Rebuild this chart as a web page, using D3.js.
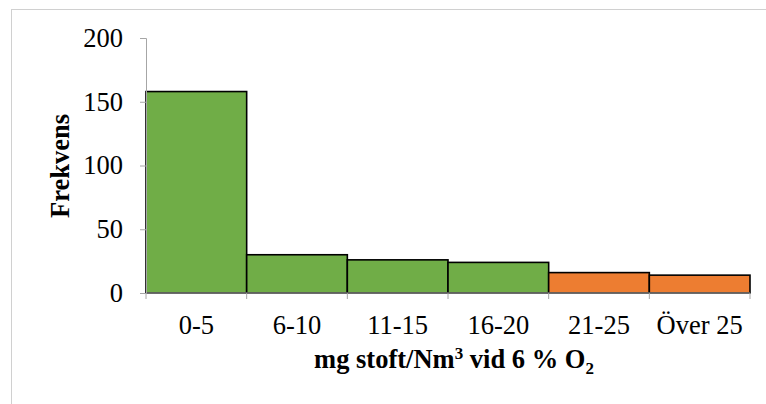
<!DOCTYPE html>
<html>
<head>
<meta charset="utf-8">
<script src="https://cdn.jsdelivr.net/npm/d3@7"></script>
</head>
<body style="margin:0; background:#fff">
<svg id="chart" width="766" height="404" style="display:block"></svg>
<script>
// Dust concentration classes (mg stoft/Nm3 at 6 % O2) and their frequencies
const categories = ["0-5", "6-10", "11-15", "16-20", "21-25", "Över 25"];
const frequencies = [158, 30, 26, 24, 16, 14];
const classColors = ["#70ad47", "#70ad47", "#70ad47", "#70ad47", "#ed7d31", "#ed7d31"];
const yTicks = [0, 50, 100, 150, 200];

const FONT = "'Liberation Serif', serif";
const svg = d3.select("#chart");
const margin = { left: 146, right: 16, top: 38, bottom: 111 };
const W = 766, H = 404;

// outer chart frame
svg.append("rect")
  .attr("x", 11.5).attr("y", 9.5)
  .attr("width", 780).attr("height", 420)
  .attr("fill", "none").attr("stroke", "#d0d0d0").attr("stroke-width", 1);

const x = d3.scaleBand()
  .domain(categories)
  .range([margin.left, W - margin.right])
  .paddingInner(0).paddingOuter(0);

const y = d3.scaleLinear()
  .domain([0, 200])
  .range([H - margin.bottom, margin.top]);

// bars
svg.append("g").selectAll("rect")
  .data(categories)
  .join("rect")
  .attr("x", d => x(d))
  .attr("y", (d, i) => y(frequencies[i]))
  .attr("width", x.bandwidth())
  .attr("height", (d, i) => y(0) - y(frequencies[i]))
  .attr("fill", (d, i) => classColors[i])
  .attr("stroke", "#000")
  .attr("stroke-width", 1.6);

// y axis
const yAxis = svg.append("g")
  .attr("transform", `translate(${margin.left},0)`)
  .call(d3.axisLeft(y).tickValues(yTicks).tickSize(6).tickPadding(17));
yAxis.attr("font-family", null).attr("font-size", null);
yAxis.select(".domain").attr("stroke", "#a6a6a6");
yAxis.selectAll(".tick line").attr("stroke", "#a6a6a6");
yAxis.selectAll(".tick text")
  .style("font-family", FONT)
  .style("font-size", "26.5px")
  .attr("fill", "#000");

// x axis: ticks on category boundaries
const bounds = categories.map(c => x(c)).concat([x.range()[1]]);
const xAxisG = svg.append("g").attr("transform", `translate(0,${y(0)})`);
xAxisG.append("line")
  .attr("x1", x.range()[0]).attr("x2", x.range()[1])
  .attr("stroke", "#a6a6a6");
xAxisG.selectAll("line.tick")
  .data(bounds)
  .join("line")
  .attr("class", "tick")
  .attr("x1", d => d).attr("x2", d => d)
  .attr("y1", 0).attr("y2", 6)
  .attr("stroke", "#a6a6a6");
xAxisG.selectAll("text")
  .data(categories)
  .join("text")
  .attr("x", d => x(d) + x.bandwidth() / 2)
  .attr("y", 41)
  .attr("text-anchor", "middle")
  .style("font-family", FONT)
  .style("font-size", "26.5px")
  .text(d => d);

// axis titles
const xt = svg.append("text")
  .attr("x", (x.range()[0] + x.range()[1]) / 2 + 6)
  .attr("y", 368)
  .attr("text-anchor", "middle")
  .style("font-family", FONT)
  .style("font-size", "26.5px")
  .style("font-weight", "bold");
xt.append("tspan").text("mg stoft/Nm");
xt.append("tspan").attr("dy", -9).style("font-size", "17px").text("3");
xt.append("tspan").attr("dy", 9).text(" vid 6 % O");
xt.append("tspan").attr("dy", 6).style("font-size", "17px").text("2");

svg.append("text")
  .attr("transform", `translate(69,166) rotate(-90)`)
  .attr("text-anchor", "middle")
  .style("font-family", FONT)
  .style("font-size", "26.5px")
  .style("font-weight", "bold")
  .text("Frekvens");
</script>
</body>
</html>
